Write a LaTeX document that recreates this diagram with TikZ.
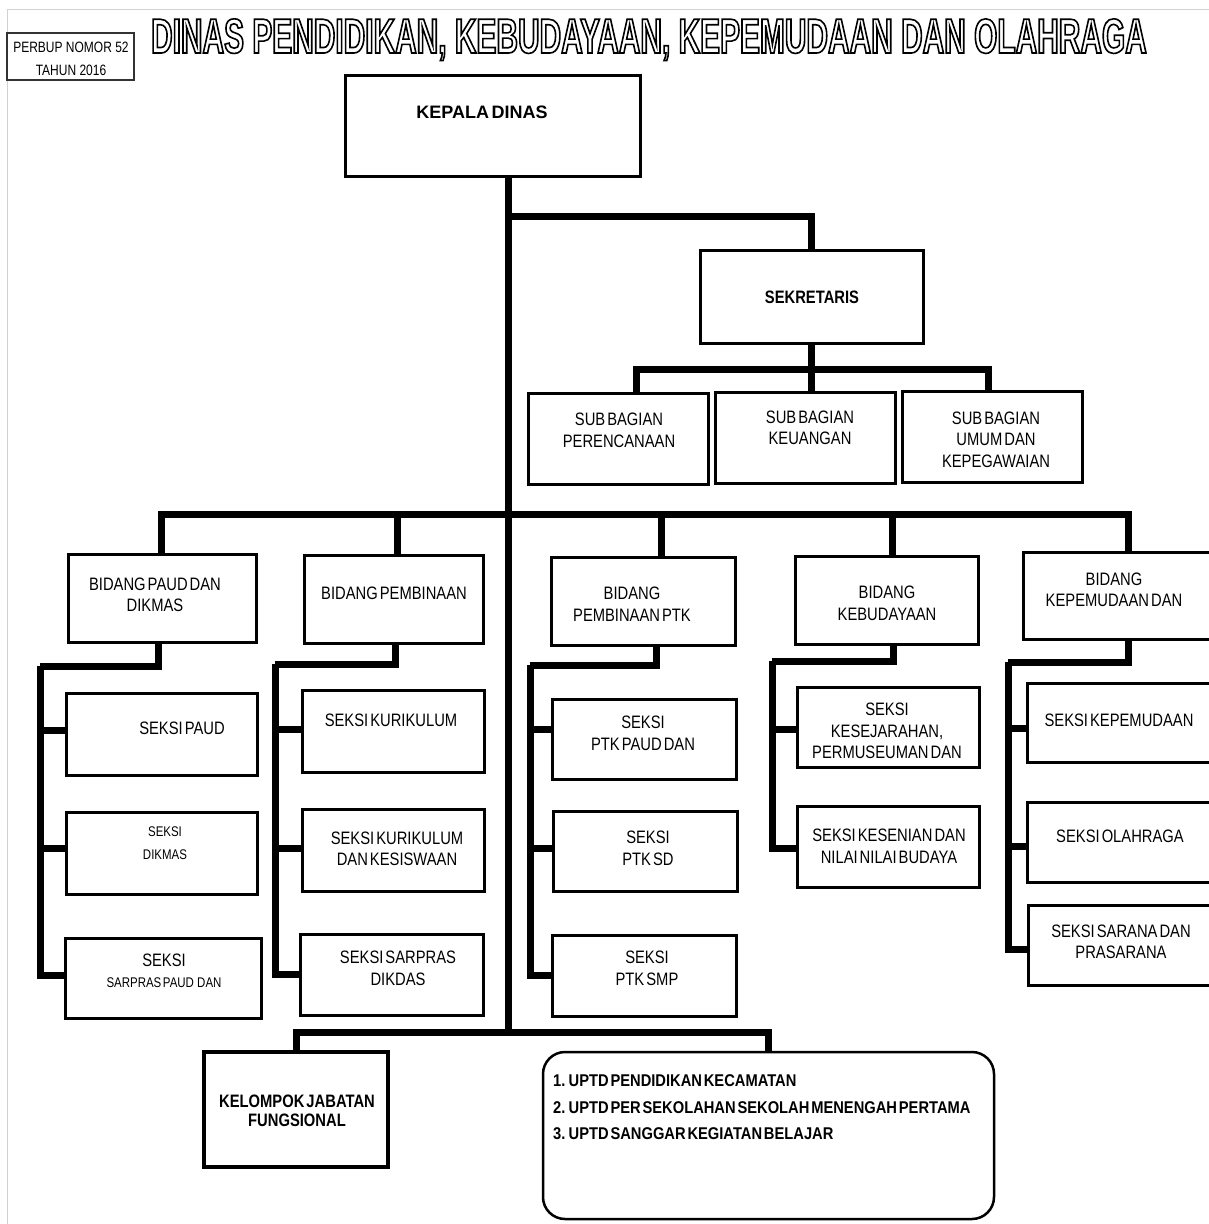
\documentclass[tikz,border=0pt]{standalone}
\usepackage{fontspec}
\setmainfont[WordSpace=0.5]{Liberation Sans}
\newfontfamily\nar[FakeStretch=0.82,WordSpace=0.5]{Liberation Sans}
\newfontfamily\narn[FakeStretch=0.8]{Liberation Sans}
\newfontfamily\narb[FakeStretch=0.865,WordSpace=0.45]{Liberation Sans}
\newfontfamily\ttlf[FakeStretch=0.61,WordSpace=1.0]{Liberation Sans}
\newcommand\mkbox[6][box]{\node[#1, minimum width={#4-#2}, minimum height={#5-#3}] (#6) at ({(#2+#4)/2},{(#3+#5)/2}) {};}
\begin{document}
\begin{tikzpicture}[x=1pt,y=-1pt,
  box/.style={draw, line width=3pt, inner sep=0pt, outer sep=0pt},
  conn/.style={line width=7pt, line join=miter},
  lbl/.style={font=\nar\fontsize{18}{21.5}\selectfont, align=center, inner sep=0pt},
  sml/.style={font=\nar\fontsize{14}{23}\selectfont, align=center, inner sep=0pt},
  bld/.style={font=\nar\bfseries\fontsize{18}{19.5}\selectfont, align=center, inner sep=0pt},
  ttl/.style={font=\ttlf\bfseries\fontsize{49}{56}\selectfont, inner sep=0pt, anchor=base}]
\useasboundingbox (0,0) rectangle (1209,1224);
% faint page border
\draw[gray!35, line width=1pt] (7,1224) -- (7,9) -- (1209,9);

% boxes
\mkbox[box, line width=1.2pt, draw=black!80]{7}{33}{134}{80}{perbup}
\mkbox{345}{75}{640}{176}{kepala}
\mkbox{700}{250}{923}{343}{sek}
\mkbox{528}{393}{708}{484}{subPer}
\mkbox{715}{392}{895}{483}{subKeu}
\mkbox{902}{391}{1082}{482}{subUmum}
\mkbox{68}{554}{256}{642}{bPaud}
\mkbox{304}{555}{483}{643}{bPemb}
\mkbox{551}{557}{735}{645}{bPtk}
\mkbox{795}{556}{978}{644}{bKeb}
\mkbox{1023}{552}{1213}{639}{bKep}
\mkbox{66}{693}{257}{775}{sPaud}
\mkbox{66}{812}{257}{894}{sDik}
\mkbox{65}{938}{261}{1018}{sSarPaud}
\mkbox{302}{690}{484}{772}{sKur}
\mkbox{302}{809}{484}{891}{sKurKes}
\mkbox{300}{934}{483}{1015}{sSarDik}
\mkbox{552}{699}{736}{779}{sPtkPaud}
\mkbox{553}{811}{737}{891}{sPtkSd}
\mkbox{552}{935}{736}{1016}{sPtkSmp}
\mkbox{797}{687}{979}{767}{sSej}
\mkbox{797}{806}{979}{887}{sSeni}
\mkbox{1027}{683}{1213}{762}{sKep}
\mkbox{1027}{802}{1213}{882}{sOla}
\mkbox{1028}{905}{1213}{985}{sSar}
\mkbox[box, line width=4.5pt]{204}{1052}{388}{1167}{kel}
\mkbox[box, line width=2.5pt, rounded corners=22pt]{543}{1052}{994}{1219}{uptd}

% connector coordinates
\coordinate (tk) at (508,1032);
\coordinate (j1) at (508,216);
\coordinate (ySub) at (0,369);
\coordinate (yB) at (0,514);
\coordinate (k1) at (40,666);
\coordinate (k2) at (275,664);
\coordinate (k3) at (530,665);
\coordinate (k4) at (772,661);
\coordinate (k5) at (1008,662);

% connectors
\draw[conn] (kepala.south -| tk) -- (tk);
\draw[conn] (j1) -| (sek.north);
\draw[conn] (sek.south) -- (sek.south |- subKeu.north);
\draw[conn] ([xshift=18pt]subPer.north) |- ([xshift=-4pt]subUmum.north |- ySub) -- ([xshift=-4pt]subUmum.north);

\draw[conn] ([xshift=-1pt]bPaud.north) |- ([xshift=10pt]bKep.north |- yB) -- ([xshift=10pt]bKep.north);
\draw[conn] ([xshift=4pt]bPemb.north) -- ([xshift=4pt]bPemb.north |- yB);
\draw[conn] ([xshift=18pt]bPtk.north) -- ([xshift=18pt]bPtk.north |- yB);
\draw[conn] ([xshift=6pt]bKeb.north) -- ([xshift=6pt]bKeb.north |- yB);

\draw[conn] ([xshift=-4pt]bPaud.south) |- (k1);
\draw[conn] ([yshift=4pt]sPaud.west) -| (k1);
\draw[conn] ([yshift=5pt]sDik.west) -| (k1);
\draw[conn] ([yshift=3pt]sSarPaud.west) -| (k1);

\draw[conn] ([xshift=1.5pt]bPemb.south) |- (k2);
\draw[conn] ([yshift=2pt]sKur.west) -| (k2);
\draw[conn] ([yshift=2pt]sKurKes.west) -| (k2);
\draw[conn] (sSarDik.west) -| (k2);

\draw[conn] ([xshift=13pt]bPtk.south) |- (k3);
\draw[conn] ([yshift=10pt]sPtkPaud.west) -| (k3);
\draw[conn] ([yshift=3pt]sPtkSd.west) -| (k3);
\draw[conn] (sPtkSmp.west) -| (k3);

\draw[conn] ([xshift=6.5pt]bKeb.south) |- (k4);
\draw[conn] ([yshift=-2pt]sSej.west) -| (k4);
\draw[conn] ([yshift=-1.5pt]sSeni.west) -| (k4);

\draw[conn] ([xshift=10pt]bKep.south) |- (k5);
\draw[conn] ([yshift=-6pt]sKep.west) -| (k5);
\draw[conn] ([yshift=-4.5pt]sOla.west) -| (k5);
\draw[conn] ([yshift=-4pt]sSar.west) -| (k5);

\draw[conn] (kel.north) |- (uptd.north |- tk) -- (uptd.north);

% texts
\node[font=\narn\fontsize{15}{23.5}\selectfont, align=center, inner sep=0pt] (perbupT) at (71,59) {PERBUP NOMOR 52\\TAHUN 2016};
\node[font=\bfseries\fontsize{18}{21}\selectfont, inner sep=0pt] (kepalaT) at (482,112) {KEPALA DINAS};
\node[bld] (sekT) at (812,297) {SEKRETARIS};
\node[lbl] (subPerT) at (619,430.5) {SUB BAGIAN\\PERENCANAAN};
\node[lbl] (subKeuT) at (810,428) {SUB BAGIAN\\KEUANGAN};
\node[lbl] (subUmumT) at (996,439.5) {SUB BAGIAN\\UMUM DAN\\KEPEGAWAIAN};
\node[lbl] (bPaudT) at (155,595) {BIDANG PAUD DAN\\DIKMAS};
\node[lbl] (bPembT) at (394,593) {BIDANG PEMBINAAN};
\node[lbl] (bPtkT) at (632,604) {BIDANG\\PEMBINAAN PTK};
\node[lbl] (bKebT) at (887,603.5) {BIDANG\\KEBUDAYAAN};
\node[lbl] (bKepT) at (1114,590) {BIDANG\\KEPEMUDAAN DAN};
\node[lbl] (sPaudT) at (182,728) {SEKSI PAUD};
\node[sml] (sDikT) at (165,843.5) {SEKSI\\DIKMAS};
\node[lbl] (sSarPaudT1) at (164,960) {SEKSI};
\node[sml] (sSarPaudT2) at (164,983) {SARPRAS PAUD\ \ DAN};
\node[lbl] (sKurT) at (391,720) {SEKSI KURIKULUM};
\node[lbl] (sKurKesT) at (397,849) {SEKSI KURIKULUM\\DAN KESISWAAN};
\node[lbl] (sSarDikT) at (398,968.5) {SEKSI SARPRAS\\DIKDAS};
\node[lbl] (sPtkPaudT) at (643,733.5) {SEKSI\\PTK PAUD DAN};
\node[lbl] (sPtkSdT) at (648,848.5) {SEKSI\\PTK SD};
\node[lbl] (sPtkSmpT) at (647,968.5) {SEKSI\\PTK SMP};
\node[lbl] (sSejT) at (887,731) {SEKSI\\KESEJARAHAN,\\PERMUSEUMAN DAN};
\node[lbl] (sSeniT) at (889,846.5) {SEKSI KESENIAN DAN\\NILAI NILAI BUDAYA};
\node[lbl] (sKepT) at (1119,720.5) {SEKSI KEPEMUDAAN};
\node[lbl] (sOlaT) at (1120,836) {SEKSI OLAHRAGA};
\node[lbl] (sSarT) at (1121,942) {SEKSI SARANA DAN\\PRASARANA};
\node[bld] (kelT) at (297,1111) {KELOMPOK JABATAN\\FUNGSIONAL};
\node[font=\narb\bfseries\fontsize{17}{26.5}\selectfont, align=left, inner sep=0pt, anchor=west] (uptdT) at (553,1107.5)
  {1. UPTD PENDIDIKAN KECAMATAN\\2. UPTD PER SEKOLAHAN SEKOLAH MENENGAH PERTAMA\\3. UPTD SANGGAR KEGIATAN BELAJAR};

% title (outlined text, drawn last)
\node[ttl] (title) at (649,53) {\special{pdf:literal direct 1.6 w 1 Tr}DINAS PENDIDIKAN, KEBUDAYAAN, KEPEMUDAAN DAN OLAHRAGA\special{pdf:literal direct 0 Tr 0.4 w}};
\end{tikzpicture}
\end{document}
